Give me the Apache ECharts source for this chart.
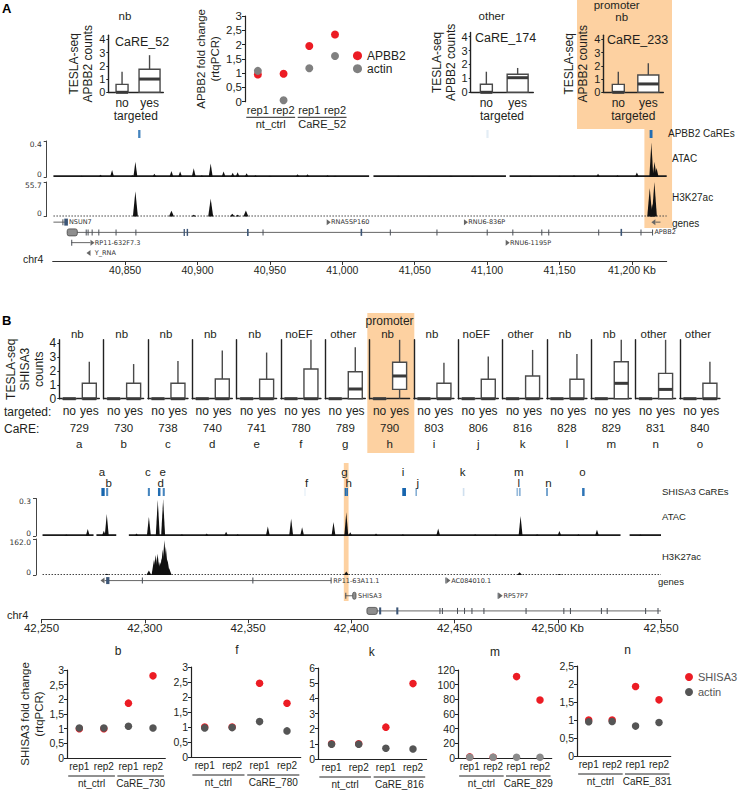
<!DOCTYPE html>
<html>
<head>
<meta charset="utf-8">
<script src="https://cdn.jsdelivr.net/npm/echarts@6.0.0/dist/echarts.min.js"></script>
<style>html,body{margin:0;padding:0;background:#fff;}#chart{width:738px;height:792px;}</style>
</head>
<body>
<div id="chart"></div>
<script>
// ======================= DATA =======================
const targeted = ['no', 'yes'];
const boxTicks = [0, 1, 2, 3, 4];

// Panel A: TESLA-seq APBB2 counts  [min, q1, median, q3, max]
const careA_names = ['CaRE_52', 'CaRE_174', 'CaRE_233'];
const careA_classes = ['nb', 'other', 'nb'];
const careA52_no = [0, 0, 0, 0.6, 1.55];
const careA52_yes = [0, 0, 1.0, 1.74, 2.8];
const careA174_no = [0, 0, 0, 0.58, 1.48];
const careA174_yes = [0, 0, 1.05, 1.3, 1.75];
const careA233_no = [0, 0, 0, 0.6, 1.55];
const careA233_yes = [0, 0, 0.63, 1.3, 2.2];

// Panel A: qPCR fold change
const reps = ['rep1', 'rep2', 'rep1', 'rep2'];
const groupSpans = [[0, 1], [2, 3]];
const groupsA = ['nt_ctrl', 'CaRE_52'];
const apbb2FC = [0.95, 0.98, 1.95, 2.35];
const actinA = [1.08, 0.05, 1.17, 1.6];

// Panel A: tracks (chr4 position in kb)
const chrA_ticks = [40850, 40900, 40950, 41000, 41050, 41100, 41150, 41200];
const caresA = [[40859, 40860.6, 0.8], [41099.5, 41101, 0.12], [41212.2, 41214.2, 0.95]];
const atacA = [[40820, 0.015], [40833, 0.025], [40841, 0.079], [40855, 0.02], [40857.1, 0.17], [40870.2, 0.036],
  [40882, 0.068], [40888, 0.06], [40897.4, 0.096], [40903, 0.02], [40909.1, 0.15], [40918, 0.06], [40924.3, 0.046],
  [40927.7, 0.054], [40933.9, 0.043], [40940, 0.02], [40950, 0.015], [40969.1, 0.03], [40976, 0.03], [40989.8, 0.02],
  [40995, 0.015], [41038.6, 0.015], [41060, 0.012], [41075, 0.015], [41090, 0.012], [41130, 0.015], [41150, 0.015],
  [41160, 0.02], [41176.6, 0.036], [41190, 0.02], [41203.4, 0.05], [41213.4, 0.38], [41215.6, 0.17], [41217, 0.1]];
const atacA_base = [[40800.5, 41018.5], [41021.5, 41113], [41115.5, 41224]];
const h3A = [[40857.1, 40.6], [40882, 9.2], [40897.4, 2.7], [40909.1, 28.7], [40924, 4.3], [40927.7, 3], [40933.4, 9.7],
  [41212.3, 46], [41214, 20], [41215.5, 57]];
const h3A_base = [[40800.5, 41224]];
const genesA_lines = [[40800.5, 40810.5, 0], [41216.2, 41219.7, 0], [40810, 41214.5, 1], [40812.8, 40826.1, 2]];
const genesA_exons = [[40806.7, 40807.3, 0], [40822.8, 40823.3, 1], [40824.1, 40824.6, 1], [40826.9, 40827.4, 1],
  [40831.5, 40832, 1], [40843.4, 40843.9, 1], [40857.1, 40857.6, 1], [40944.9, 40945.4, 1], [41032.8, 41033.3, 1],
  [41065, 41065.5, 1], [41099.7, 41100.2, 1], [41117.4, 41117.9, 1], [41137.4, 41137.9, 1], [41142.2, 41142.7, 1],
  [41176.7, 41177.2, 1], [41205.9, 41206.4, 1], [41213.9, 41214.5, 1], [40812.8, 40813.3, 2]];
const genesA_thick = [[40808, 40810.5, 0], [40890.4, 40891.3, 1], [40892.5, 40893.5, 1], [40934.2, 40935.3, 1],
  [41012.6, 41013.7, 1], [41192.1, 41193.2, 1]];
const genesA_utr = [[40810, 40817, 1]];
const genesA_arrows = [[40989.2, 0, 1], [41084, 0, 1], [41216.2, 0, -1], [40826.1, 2, 1], [41112.8, 2, 1], [40826.1, 3, -1]];
const genesA_labelPos = [[40810.5, 0], [40991.5, 0], [41086.3, 0], [41214.8, 1], [40828.4, 2], [41115.1, 2], [40828.4, 3]];
const genesA_labels = ['NSUN7', 'RNA5SP160', 'RNU6-836P', 'APBB2', 'RP11-632F7.3', 'RNU6-1195P', 'Y_RNA'];
const highlightA = [[41208.6, 41227.7]];

// Panel B: TESLA-seq SHISA3 counts
const careB_ids = ['729', '730', '738', '740', '741', '780', '789', '790', '803', '806', '816', '828', '829', '831', '840'];
const careB_letters = ['a', 'b', 'c', 'd', 'e', 'f', 'g', 'h', 'i', 'j', 'k', 'l', 'm', 'n', 'o'];
const careB_classes = ['nb', 'nb', 'nb', 'nb', 'nb', 'noEF', 'other', 'nb', 'nb', 'noEF', 'other', 'nb', 'nb', 'other', 'other'];
const careB_no = [[0, 0, 0, 0, 0], [0, 0, 0, 0, 0], [0, 0, 0, 0, 0], [0, 0, 0, 0, 0], [0, 0, 0, 0, 0],
  [0, 0, 0, 0, 0], [0, 0, 0, 0, 0], [0, 0, 0, 0, 0], [0, 0, 0, 0, 0], [0, 0, 0, 0, 0],
  [0, 0, 0, 0, 0], [0, 0, 0, 0, 0], [0, 0, 0, 0, 0], [0, 0, 0, 0, 0], [0, 0, 0, 0, 0]];
const careB_yes = [[0, 0, 0, 1.11, 2.67], [0, 0, 0, 1.11, 2.5], [0, 0, 0, 1.11, 2.72], [0, 0, 0, 1.42, 3.47],
  [0, 0, 0, 1.4, 3.33], [0, 0, 0, 2.14, 4.25], [0, 0, 0.7, 1.95, 3.71], [0, 0.67, 1.64, 2.63, 4.25],
  [0, 0, 0, 1.11, 2.6], [0, 0, 0, 1.4, 3.04], [0, 0, 0, 1.64, 3.52], [0, 0, 0, 1.4, 3.23],
  [0, 0, 1.11, 2.67, 4.25], [0, 0, 0.67, 1.83, 4.25], [0, 0, 0, 1.11, 2.67]];
const promoterIndexB = 7;

// Panel B: tracks
const chrB_ticks = [42250, 42300, 42350, 42400, 42450, 42500, 42550];
const caresB = [[42279, 42280.6, 1.0], [42281.3, 42282.3, 0.75], [42301.5, 42302.5, 0.8], [42306.4, 42307.6, 0.95],
  [42308.7, 42309.7, 0.8], [42377.2, 42378, 0.08], [42396.8, 42397.6, 0.95], [42397.6, 42398.4, 0.95],
  [42424.7, 42426.5, 1.0], [42431.1, 42431.8, 0.55], [42454, 42454.8, 0.2], [42480, 42480.8, 0.45],
  [42481.3, 42482, 0.55], [42494.4, 42495.2, 0.7], [42511.8, 42513, 0.9]];
const atacB = [[42262, 0.012], [42272.4, 0.056], [42280.2, 0.042], [42281.6, 0.177], [42296, 0.02], [42302, 0.154],
  [42306.3, 0.289], [42308.9, 0.294], [42318, 0.015], [42330, 0.02], [42339.4, 0.034], [42345, 0.015], [42359.6, 0.076],
  [42370.9, 0.14], [42376.2, 0.07], [42391.4, 0.112], [42397.6, 0.19], [42399.5, 0.03], [42412, 0.02], [42425, 0.015],
  [42442.1, 0.06], [42460, 0.015], [42470, 0.012], [42482, 0.16], [42490, 0.015], [42500.8, 0.04], [42510, 0.015],
  [42519, 0.05], [42540, 0.012]];
const atacB_base = [[42250.5, 42275.2], [42276.6, 42286.2], [42292.3, 42530.4], [42534.8, 42550]];
const h3B = [[42281.6, 6], [42302, 20], [42304.5, 70], [42305.3, 90], [42306.2, 96], [42306.9, 60], [42307.6, 58],
  [42308.2, 75], [42308.7, 115], [42309.5, 158], [42310.2, 128], [42311, 70], [42311.8, 30], [42397.6, 16],
  [42481.5, 12], [42500.8, 4]];
const h3B_base = [[42250.5, 42550]];
const genesB_lines = [[42280.5, 42390.3, 0], [42397.1, 42400.7, 1], [42407.6, 42550, 2]];
const genesB_exons = [[42298.6, 42299.1, 0], [42352.1, 42352.6, 0], [42390, 42390.5, 0], [42445.6, 42446.1, 0],
  [42397.1, 42397.6, 1], [42470.9, 42471.4, 1],
  [42442.7, 42443.2, 2], [42443.9, 42444.4, 2], [42451.2, 42451.7, 2], [42454.6, 42455.1, 2], [42458.2, 42458.7, 2],
  [42464, 42464.5, 2], [42484.4, 42484.9, 2], [42502.7, 42503.2, 2], [42505.9, 42506.4, 2], [42520.9, 42521.4, 2],
  [42523.7, 42524.2, 2], [42542.3, 42542.8, 2], [42548.3, 42548.8, 2]];
const genesB_thick = [[42281.3, 42282.9, 0], [42413.5, 42414.5, 2], [42421.8, 42422.8, 2]];
const genesB_utr = [[42400.7, 42402.3, 1], [42407.6, 42412.6, 2]];
const genesB_arrows = [[42280.5, 0, -1], [42446.1, 0, 1], [42471.4, 1, 1]];
const genesB_labelPos = [[42390.8, 0], [42447.9, 0], [42402.8, 1], [42473.2, 1]];
const genesB_labels = ['RP11-63A11.1', 'AC084010.1', 'SHISA3', 'RP57P7'];
const highlightB = [[42396.4, 42398.7]];

// Panel B: qPCR fold change
const qB_titles = ['b', 'f', 'k', 'm', 'n'];
const qB_groups = [['nt_ctrl', 'CaRE_730'], ['nt_ctrl', 'CaRE_780'], ['nt_ctrl', 'CaRE_816'], ['nt_ctrl', 'CaRE_829'], ['nt_ctrl', 'CaRE_831']];
const shisa3_730 = [1, 1, 1.87, 2.8];
const actin_730 = [1.02, 1.02, 1.08, 1.02];
const shisa3_780 = [1, 1, 2.46, 1.79];
const actin_780 = [0.97, 0.98, 1.18, 0.87];
const shisa3_816 = [1, 1, 2.1, 4.97];
const actin_816 = [0.97, 0.97, 0.71, 0.66];
const shisa3_829 = [1.5, 1, 111, 79];
const actin_829 = [1, 1, 1, 1];
const shisa3_831 = [1, 1, 1.93, 1.56];
const actin_831 = [0.95, 0.96, 0.83, 0.93];

// ======================= BUILD =======================
const FONT = "'Liberation Sans', Arial, Helvetica, sans-serif";
const GFONT = "'DejaVu Sans', sans-serif";
const INK = '#231f20';
const ORANGE = '#fdd1a1';
const RED = '#ec1c24';

const grid = [], xAxis = [], yAxis = [], series = [], elements = [];
const addGrid = r => { grid.push(r); return grid.length - 1; };
const addX = o => { xAxis.push(o); return xAxis.length - 1; };
const addY = o => { yAxis.push(o); return yAxis.length - 1; };
function label(x, y, text, o = {}) {
  elements.push({type: 'text', x, y, z: 10, silent: true, style: {
    text, fill: o.color || INK, fontSize: o.size || 12, fontFamily: o.family || FONT,
    fontWeight: o.weight || 'normal', align: o.align || 'left', verticalAlign: 'middle',
    textAlign: o.align || 'left', textVerticalAlign: 'middle'}});
}
function bgRect(x, y, w, h) {
  elements.push({type: 'rect', z: -1, silent: true, shape: {x, y, width: w, height: h}, style: {fill: ORANGE}});
}
const dec = v => String(v).replace('.', ',');
const kbFmt = v => v.toLocaleString('en-US');
function blueMix(t) {
  const c0 = [255, 255, 255], c1 = [22, 101, 174];
  return 'rgb(' + c0.map((a, k) => Math.round(a + (c1[k] - a) * t)).join(',') + ')';
}

// ---------- boxplots ----------
const boxStroke = '#4a4a4a';
function boxRender(widths) {
  return function (params, api) {
    const i = api.value(0);
    const v = [api.value(1), api.value(2), api.value(3), api.value(4), api.value(5)];
    const y = v.map(val => api.coord([i, val])[1]);
    const x = api.coord([i, 0])[0];
    const w = widths[i];
    return {type: 'group', children: [
      {type: 'line', shape: {x1: x, y1: y[3], x2: x, y2: y[4]}, style: {stroke: boxStroke, lineWidth: 1.4}},
      {type: 'line', shape: {x1: x, y1: y[1], x2: x, y2: y[0]}, style: {stroke: boxStroke, lineWidth: 1.4}},
      {type: 'rect', shape: {x: x - w / 2, y: y[3], width: w, height: Math.max(0.01, y[1] - y[3])},
        style: {fill: '#fff', stroke: boxStroke, lineWidth: 1.4}},
      {type: 'line', shape: {x1: x - w / 2, y1: y[2], x2: x + w / 2, y2: y[2]}, style: {stroke: '#3a3a3a', lineWidth: 3}}
    ]};
  };
}
function boxPanel(o) {
  const g = addGrid({left: o.left, top: o.top, width: o.width, height: o.height});
  const xi = addX({gridIndex: g, type: 'category', data: targeted, offset: 3, position: 'bottom',
    axisLine: {show: true, lineStyle: {color: '#222', width: 1.4}}, axisTick: {show: false},
    axisLabel: {interval: 0, fontSize: 12, color: INK, fontFamily: FONT, margin: o.xMargin},
    name: o.xName || '', nameLocation: 'middle', nameGap: o.xNameGap || 0,
    nameTextStyle: {fontSize: 12, color: INK, fontFamily: FONT}});
  (o.extraX || []).forEach(e => addX(Object.assign({gridIndex: g, type: 'category', position: 'bottom',
    axisLine: {show: false}, axisTick: {show: false}}, e)));
  const yi = addY({gridIndex: g, type: 'value', min: 0, max: o.yMax, interval: 1, splitLine: {show: false},
    axisLine: {show: true, lineStyle: {color: '#222', width: 1.4}},
    axisTick: {show: !!o.yLabels, length: 2, customValues: boxTicks, lineStyle: {color: '#222'}},
    axisLabel: {show: !!o.yLabels, customValues: boxTicks, fontSize: o.yLabelSize || 11, color: INK, fontFamily: FONT, margin: 3},
    name: o.yName || '', nameLocation: 'middle', nameRotate: 90, nameGap: o.yNameGap || 0,
    nameTextStyle: {fontSize: 12, lineHeight: 14, color: INK, fontFamily: FONT}});
  series.push({type: 'custom', xAxisIndex: xi, yAxisIndex: yi, z: 3, renderItem: boxRender(o.widths),
    data: o.boxes.map((b, i) => [i].concat(b))});
}

// ---------- qPCR scatter ----------
function underline(gap) {
  return (params, api) => {
    const cs = params.coordSys;
    const band = api.size([1, 0])[0];
    const a = api.coord([api.value(0), 0])[0], b = api.coord([api.value(1), 0])[0];
    const y = cs.y + cs.height + gap;
    return {type: 'line', shape: {x1: a - band * 0.45, y1: y, x2: b + band * 0.45, y2: y}, style: {stroke: '#222', lineWidth: 1}};
  };
}
function qpcrPanel(o) {
  const width = (o.lastC - o.ax) * 8 / 7;
  const fs = o.fontSize;
  const g = addGrid({left: o.ax, top: o.top, width, height: o.height});
  const xi = addX({gridIndex: g, type: 'category', data: reps, position: 'bottom',
    axisLine: {show: o.xLine, lineStyle: {color: '#222', width: 1.2}}, axisTick: {show: false},
    axisLabel: {interval: 0, fontSize: fs, color: INK, fontFamily: FONT, margin: 3}});
  addX({gridIndex: g, type: 'category', data: o.groups, position: 'bottom', offset: o.groupOffset,
    axisLine: {show: false}, axisTick: {show: false},
    axisLabel: {interval: 0, fontSize: fs, color: INK, fontFamily: FONT, margin: 1}});
  const yi = addY({gridIndex: g, type: 'value', min: 0, max: o.yMax, interval: o.interval, splitLine: {show: false},
    axisLine: {show: true, lineStyle: {color: '#222', width: 1.2}}, axisTick: {show: true, length: 3, lineStyle: {color: '#222'}},
    axisLabel: {fontSize: o.yFontSize || fs, color: INK, fontFamily: FONT, margin: 3, formatter: dec},
    name: o.yName || '', nameLocation: 'middle', nameGap: o.yNameGap || 0,
    nameTextStyle: {fontSize: 11.5, lineHeight: 14, color: INK, fontFamily: FONT}});
  series.push({type: 'scatter', name: o.mainName, xAxisIndex: xi, yAxisIndex: yi, data: o.main, symbolSize: o.size,
    itemStyle: {color: RED, opacity: 1}, z: 3});
  series.push({type: 'scatter', name: 'actin', xAxisIndex: xi, yAxisIndex: yi, data: o.actin, symbolSize: o.size,
    itemStyle: {color: o.actinColor, opacity: 1}, z: 4});
  series.push({type: 'custom', xAxisIndex: xi, yAxisIndex: yi, z: 3, data: groupSpans, renderItem: underline(o.underGap)});
  if (o.title) label(o.titleX, o.titleY, o.title, {align: 'center', size: 12});
}

// ---------- tracks ----------
function trackGrid(o) {
  const g = addGrid({left: o.left, top: o.top, width: o.width, height: o.height});
  const xi = addX({gridIndex: g, type: 'value', min: o.min, max: o.max, show: false});
  const yo = {gridIndex: g, type: 'value', min: o.ymin !== undefined ? o.ymin : 0, max: o.ymax, inverse: !!o.inverse,
    splitLine: {show: false}, show: !!o.axisShow};
  if (o.axisShow) {
    const top = o.topLabel || String(o.ymax);
    Object.assign(yo, {interval: o.ymax, offset: o.yOffset,
      axisLine: {show: true, lineStyle: {color: '#444', width: 1}},
      axisTick: {show: true, length: 3, lineStyle: {color: '#444'}},
      axisLabel: {fontSize: 7.5, color: '#333', fontFamily: GFONT, margin: 5,
        formatter: v => (v === 0 ? '{lo|0}' : '{hi|' + top + '}'),
        rich: {lo: {fontSize: 7.5, fontFamily: GFONT, color: '#333', padding: [0, 0, 6, 0]},
               hi: {fontSize: 7.5, fontFamily: GFONT, color: '#333', padding: [6, 0, 0, 0]}}}});
  }
  const yi = addY(yo);
  return {xi, yi};
}
function peakRender(hw) {
  return (params, api) => {
    const cs = params.coordSys;
    const b = api.coord([api.value(0), 0]);
    const top = Math.max(api.coord([api.value(0), api.value(1)])[1], cs.y);
    return {type: 'polygon', shape: {points: [[b[0] - hw, b[1]], [b[0], top], [b[0] + hw, b[1]]]}, style: {fill: '#111'}};
  };
}
function peakSeries(t, data, hw) {
  series.push({type: 'custom', xAxisIndex: t.xi, yAxisIndex: t.yi, z: 3, data, renderItem: peakRender(hw)});
}
function baseSeries(t, data, dashed) {
  series.push({type: 'custom', xAxisIndex: t.xi, yAxisIndex: t.yi, z: 3, data, renderItem: (p, api) => {
    const a = api.coord([api.value(0), 0]), b = api.coord([api.value(1), 0]);
    if (dashed) return {type: 'line', shape: {x1: a[0], y1: a[1] - 0.5, x2: b[0], y2: b[1] - 0.5},
      style: {stroke: '#444', lineWidth: 1, lineDash: [1.5, 1.5]}};
    return {type: 'rect', shape: {x: a[0], y: a[1] - 1.8, width: b[0] - a[0], height: 1.8}, style: {fill: '#1a1a1a'}};
  }});
}
function careSeries(t, data, letters) {
  series.push({type: 'custom', xAxisIndex: t.xi, yAxisIndex: t.yi, z: 3, data, renderItem: (p, api) => {
    const cs = p.coordSys;
    const a = api.coord([api.value(0), 0])[0], b = api.coord([api.value(1), 0])[0];
    const w = Math.max(1.5, b - a), c = (a + b) / 2;
    const ch = [{type: 'rect', shape: {x: c - w / 2, y: cs.y, width: w, height: cs.height}, style: {fill: blueMix(api.value(2))}}];
    const odd = p.dataIndex % 2;
    if (letters) ch.push({type: 'text', style: {text: letters[p.dataIndex], x: c + (odd ? 1.5 : -1), y: cs.y - (odd ? 5.5 : 16.5),
      fill: INK, fontSize: 11.5, fontFamily: FONT, align: 'center', verticalAlign: 'middle', textAlign: 'center', textVerticalAlign: 'middle'}});
    return {type: 'group', children: ch};
  }});
}
function geneSeries(t, g) {
  const S = {type: 'custom', xAxisIndex: t.xi, yAxisIndex: t.yi, z: 3};
  series.push(Object.assign({}, S, {data: g.lines, renderItem: (p, api) => {
    const a = api.coord([api.value(0), api.value(2)]), b = api.coord([api.value(1), api.value(2)]);
    return {type: 'line', shape: {x1: a[0], y1: a[1], x2: b[0], y2: b[1]}, style: {stroke: '#555', lineWidth: 0.9}};
  }}));
  const exonR = (h, col) => (p, api) => {
    const a = api.coord([api.value(0), api.value(2)]), b = api.coord([api.value(1), api.value(2)]);
    const w = Math.max(1, b[0] - a[0]);
    return {type: 'rect', shape: {x: a[0], y: a[1] - h / 2, width: w, height: h}, style: {fill: col}};
  };
  series.push(Object.assign({}, S, {data: g.exons, renderItem: exonR(6, '#4a4f57')}));
  series.push(Object.assign({}, S, {data: g.thick, renderItem: exonR(7, '#3c5576')}));
  series.push(Object.assign({}, S, {data: g.utr, renderItem: (p, api) => {
    const a = api.coord([api.value(0), api.value(2)]), b = api.coord([api.value(1), api.value(2)]);
    return {type: 'rect', shape: {x: a[0], y: a[1] - 3.5, width: Math.max(2, b[0] - a[0]), height: 7, r: 2},
      style: {fill: '#8e8e8e', stroke: '#4a4a4a', lineWidth: 0.8}};
  }}));
  series.push(Object.assign({}, S, {data: g.arrows, renderItem: (p, api) => {
    const c = api.coord([api.value(0), api.value(1)]), d = api.value(2);
    return {type: 'polygon', shape: {points: [[c[0], c[1] - 3], [c[0] + 4 * d, c[1]], [c[0], c[1] + 3]]}, style: {fill: '#666'}};
  }}));
  series.push(Object.assign({}, S, {data: g.labelPos, renderItem: (p, api) => {
    const c = api.coord([api.value(0), api.value(1)]);
    return {type: 'text', style: {text: g.labels[p.dataIndex], x: c[0] + 1, y: c[1], fill: '#333', fontSize: 6.5,
      fontFamily: GFONT, align: 'left', verticalAlign: 'middle', textAlign: 'left', textVerticalAlign: 'middle'}};
  }}));
}
function hlSeries(t, data) {
  series.push({type: 'custom', xAxisIndex: t.xi, yAxisIndex: t.yi, z: 1, data, renderItem: (p, api) => {
    const cs = p.coordSys;
    const a = api.coord([api.value(0), 0])[0], b = api.coord([api.value(1), 0])[0];
    return {type: 'rect', shape: {x: a, y: cs.y, width: b - a, height: cs.height}, style: {fill: ORANGE}};
  }});
}
function chrAxis(o) {
  const g = addGrid({left: o.left, top: o.top, width: o.width, height: 1});
  addX({gridIndex: g, type: 'value', min: o.min, max: o.max, position: 'bottom', splitLine: {show: false},
    axisLine: {show: true, lineStyle: {color: '#333', width: 1}},
    axisTick: {show: true, length: 4, customValues: o.ticks, lineStyle: {color: '#333'}},
    axisLabel: {customValues: o.ticks, fontSize: o.size, color: INK, fontFamily: FONT, margin: o.margin,
      formatter: v => kbFmt(v) + (v === o.kbAt ? ' Kb' : '')}});
  addY({gridIndex: g, type: 'value', show: false, min: 0, max: 1});
}

// ======================= PANEL A =======================
label(2, 8, 'A', {size: 13, weight: 'bold', color: '#000'});
bgRect(577, 0, 95, 129);
const boxAcfg = [
  {left: 108.3, top: 35.3, width: 55, height: 57, nameGap: 10, boxes: [careA52_no, careA52_yes], title: [125, 15.5], care: [115, 41.6]},
  {left: 470.7, top: 32.5, width: 62.6, height: 59.8, nameGap: 12.7, boxes: [careA174_no, careA174_yes], title: [491.7, 15.5], care: [475, 37.5]},
  {left: 603.3, top: 35.3, width: 60, height: 57, nameGap: 12, boxes: [careA233_no, careA233_yes], title: [621.7, 16.5], care: [607, 40]}
];
boxAcfg.forEach((c, i) => {
  boxPanel({left: c.left, top: c.top, width: c.width, height: c.height, yMax: 4.3, boxes: c.boxes, widths: [12, 21],
    yLabels: true, yLabelSize: 11, yName: 'TESLA-seq\nAPBB2 counts', yNameGap: c.nameGap,
    xMargin: 2, xName: 'targeted', xNameGap: 9});
  label(c.title[0], c.title[1], careA_classes[i], {align: 'center', size: 11.5});
  label(c.care[0], c.care[1], careA_names[i], {size: 12.5});
});
label(616.7, 5, 'promoter', {align: 'center', size: 11.5});
qpcrPanel({ax: 245, lastC: 335, top: 16, height: 85.7, yMax: 3, interval: 0.5, main: apbb2FC, actin: actinA,
  mainName: 'APBB2', actinColor: '#808080', size: 8, groups: groupsA, groupOffset: 16, underGap: 15.6, xLine: false,
  yName: 'APBB2 fold change\n(rtqPCR)', yNameGap: 11, fontSize: 11, yFontSize: 11.5});
const xA = {left: 52.7, width: 614, min: 40800, max: 41224};
hlSeries(trackGrid(Object.assign({}, xA, {top: 129, height: 99, ymax: 1})), highlightA);
careSeries(trackGrid(Object.assign({}, xA, {top: 130, height: 8, ymax: 1})), caresA, null);
const tAtacA = trackGrid(Object.assign({}, xA, {top: 141, height: 36, ymax: 0.4, axisShow: true, yOffset: 6}));
baseSeries(tAtacA, atacA_base, false);
peakSeries(tAtacA, atacA, 2);
const tH3A = trackGrid(Object.assign({}, xA, {top: 182, height: 34.5, ymax: 55.7, axisShow: true, yOffset: 6}));
baseSeries(tH3A, h3A_base, true);
peakSeries(tH3A, h3A, 2.5);
geneSeries(trackGrid(Object.assign({}, xA, {top: 217, height: 41, ymin: -0.5, ymax: 3.5, inverse: true})),
  {lines: genesA_lines, exons: genesA_exons, thick: genesA_thick, utr: genesA_utr, arrows: genesA_arrows,
    labelPos: genesA_labelPos, labels: genesA_labels});
chrAxis(Object.assign({}, xA, {top: 260, ticks: chrA_ticks, kbAt: 41200, size: 10.5, margin: 3}));
label(23, 259, 'chr4', {size: 10.5});
label(668, 133.5, 'APBB2 CaREs', {size: 10});
label(672, 158.3, 'ATAC', {size: 10});
label(672, 197.7, 'H3K27ac', {size: 10});
label(672, 223.3, 'genes', {size: 10});

// ======================= PANEL B =======================
label(2, 320, 'B', {size: 13, weight: 'bold', color: '#000'});
const bStep = 44.33, bLeft0 = 59.3;
bgRect(bLeft0 + bStep * promoterIndexB - 2.3, 313, 47, 140);
careB_ids.forEach((id, i) => {
  const left = bLeft0 + bStep * i;
  boxPanel({left, top: 339.8, width: 40, height: 58.9, yMax: 4.25, boxes: [careB_no[i], careB_yes[i]], widths: [13, 14],
    yLabels: i === 0, yLabelSize: 12, yName: i === 0 ? 'TESLA-seq\nSHISA3\ncounts' : '', yNameGap: 10.8, xMargin: 3,
    extraX: [
      {data: [id], offset: 22.3, axisLabel: {interval: 0, fontSize: 11.5, color: INK, fontFamily: FONT, margin: 1}},
      {data: [careB_letters[i]], offset: 38.3, axisLabel: {interval: 0, fontSize: 11.5, color: INK, fontFamily: FONT, margin: 1}}
    ]});
  label(left + 18, 333.5, careB_classes[i], {align: 'center', size: 11.5});
});
label(bLeft0 + bStep * promoterIndexB + 20, 321, 'promoter', {align: 'center', size: 12});
label(4, 411.7, 'targeted:', {size: 12});
label(4, 429, 'CaRE:', {size: 12});

const xB = {left: 41.5, width: 619.5, min: 42250, max: 42550};
hlSeries(trackGrid(Object.assign({}, xB, {top: 463, height: 138, ymax: 1})), highlightB);
careSeries(trackGrid(Object.assign({}, xB, {top: 488, height: 8, ymax: 1})), caresB, careB_letters);
const tAtacB = trackGrid(Object.assign({}, xB, {top: 498.5, height: 37.5, ymax: 0.3, axisShow: true, yOffset: 5.5}));
baseSeries(tAtacB, atacB_base, false);
peakSeries(tAtacB, atacB, 2);
const tH3B = trackGrid(Object.assign({}, xB, {top: 539, height: 36, ymax: 162, axisShow: true, yOffset: 5.5, topLabel: '162.0'}));
baseSeries(tH3B, h3B_base, true);
peakSeries(tH3B, h3B, 2.5);
geneSeries(trackGrid(Object.assign({}, xB, {top: 573, height: 45.5, ymin: -0.5, ymax: 2.5, inverse: true})),
  {lines: genesB_lines, exons: genesB_exons, thick: genesB_thick, utr: genesB_utr, arrows: genesB_arrows,
    labelPos: genesB_labelPos, labels: genesB_labels});
chrAxis(Object.assign({}, xB, {top: 618.3, ticks: chrB_ticks, kbAt: 42500, size: 11.5, margin: 3}));
label(7, 615, 'chr4', {size: 11});
label(662, 491, 'SHISA3 CaREs', {size: 9.5});
label(662, 516.7, 'ATAC', {size: 9.5});
label(662, 556.7, 'H3K27ac', {size: 9.5});
label(658, 581.7, 'genes', {size: 9.5});

const qBcfg = [
  {ax: 67, lastC: 153, top: 670, height: 88, yMax: 3, interval: 0.5, main: shisa3_730, actin: actin_730, tx: 118, ty: 651},
  {ax: 191, lastC: 287, top: 667, height: 90, yMax: 3, interval: 0.5, main: shisa3_780, actin: actin_780, tx: 237, ty: 650},
  {ax: 318, lastC: 413, top: 668, height: 91, yMax: 6, interval: 1, main: shisa3_816, actin: actin_816, tx: 371.7, ty: 652},
  {ax: 458, lastC: 540, top: 670, height: 88, yMax: 120, interval: 20, main: shisa3_829, actin: actin_829, tx: 495, ty: 652, gray: '#8c8c8c'},
  {ax: 577, lastC: 659, top: 666, height: 90, yMax: 2.5, interval: 0.5, main: shisa3_831, actin: actin_831, tx: 627.7, ty: 650}
];
qBcfg.forEach((c, i) => {
  qpcrPanel({ax: c.ax, lastC: c.lastC, top: c.top, height: c.height, yMax: c.yMax, interval: c.interval,
    main: c.main, actin: c.actin, mainName: 'SHISA3', actinColor: c.gray || '#555555', size: 7.5,
    groups: qB_groups[i], groupOffset: 19, underGap: 18, xLine: true,
    yName: i === 0 ? 'SHISA3 fold change\n(rtqPCR)' : '', yNameGap: 21, fontSize: 10, yFontSize: 10.5,
    title: qB_titles[i], titleX: c.tx, titleY: c.ty});
});

const chart = echarts.init(document.getElementById('chart'), null, {renderer: 'svg', width: 738, height: 792});
chart.setOption({
  animation: false,
  backgroundColor: '#ffffff',
  textStyle: {fontFamily: FONT},
  grid, xAxis, yAxis, series,
  legend: [
    {left: 353, top: 49.7, padding: 0, orient: 'vertical', icon: 'circle', itemWidth: 9, itemHeight: 9, itemGap: 1,
      selectedMode: false, data: [{name: 'APBB2'}, {name: 'actin', itemStyle: {color: '#808080'}}],
      textStyle: {fontSize: 12, lineHeight: 12, color: INK, fontFamily: FONT}},
    {left: 685, top: 671, padding: 0, orient: 'vertical', icon: 'circle', itemWidth: 8, itemHeight: 8, itemGap: 3,
      selectedMode: false, data: [{name: 'SHISA3', itemStyle: {color: RED}}, {name: 'actin', itemStyle: {color: '#555555'}}],
      textStyle: {fontSize: 11, lineHeight: 12, color: '#555', fontFamily: FONT}}
  ],
  graphic: {elements}
});
</script>
</body>
</html>
